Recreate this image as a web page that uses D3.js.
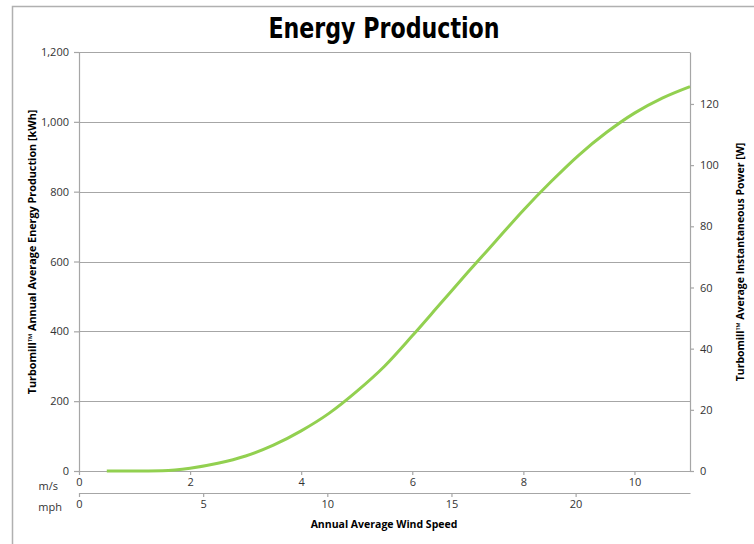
<!DOCTYPE html>
<html><head><meta charset="utf-8">
<script src="https://cdn.jsdelivr.net/npm/d3@7"></script>
<style>body{margin:0;background:#fff}svg{display:block}</style>
</head><body><svg id="c" width="754" height="544"></svg>
<script>
const windSpeed = [0.5,1,1.5,2,2.5,3,3.5,4,4.5,5,5.5,6,6.5,7,7.5,8,8.5,9,9.5,10,10.5,11];
const energyKWh = [0,0,1,8,22,43,74,115,165,228,300,387,478,569,658,747,829,905,970,1025,1068,1101];
const leftTicks = [0,200,400,600,800,1000,1200];
const rightTicks = [0,20,40,60,80,100,120];
const msTicks = [0,2,4,6,8,10];
const mphTicks = [0,5,10,15,20];

const svg = d3.select("#c");
const L = 79, R = 690, T = 52, B = 471;
const x = d3.scaleLinear().domain([0,11]).range([L,R]);
const xMph = d3.scaleLinear().domain([0,11*2.23694]).range([L,R]);
const y = d3.scaleLinear().domain([0,1200]).range([B,T]);
const yW = d3.scaleLinear().domain([0,1200000/8760]).range([B,T]);
const gray = "#a6a6a6";
const font = "'Open Sans', 'DejaVu Sans', sans-serif";

// outer border
svg.append("path").attr("d","M12.5,544 V6.5 H754").attr("fill","none").attr("stroke","#b0b0b0").attr("stroke-width",1.5);

// title
svg.append("text").attr("transform","translate(384,38) scale(0.88,1)").attr("text-anchor","middle")
  .attr("font-family","'DejaVu Sans Condensed','DejaVu Sans',sans-serif")
  .attr("font-weight","bold").attr("font-size",28).attr("fill","#000").text("Energy Production");

// gridlines
svg.append("g").selectAll("line").data(leftTicks.slice(1)).join("line")
  .attr("x1",L).attr("x2",R).attr("y1",d=>Math.round(y(d))+0.5).attr("y2",d=>Math.round(y(d))+0.5)
  .attr("stroke",gray).attr("stroke-width",1.2);

function styleAxis(g){
  g.selectAll("path,line").attr("stroke",gray).attr("stroke-width",1.2);
  g.selectAll("text").attr("font-family",font).attr("font-size",11).attr("fill","#333");
}
// left axis
svg.append("g").attr("transform",`translate(${L},0)`)
  .call(d3.axisLeft(y).tickValues(leftTicks).tickSize(5).tickSizeOuter(0).tickPadding(5).tickFormat(d3.format(",")))
  .call(styleAxis);
// right axis
svg.append("g").attr("transform",`translate(${R},0)`)
  .call(d3.axisRight(yW).tickValues(rightTicks).tickSize(4).tickSizeOuter(0).tickPadding(6))
  .call(styleAxis);
// bottom m/s axis
svg.append("g").attr("transform",`translate(0,${B})`)
  .call(d3.axisBottom(x).tickValues(msTicks).tickSize(4).tickSizeOuter(0).tickPadding(3))
  .call(styleAxis);
// mph axis
svg.append("g").attr("transform",`translate(0,493)`)
  .call(d3.axisBottom(xMph).tickValues(mphTicks).tickSize(4).tickSizeOuter(0).tickPadding(3))
  .call(styleAxis);

svg.append("text").attr("x",58).attr("y",490).attr("text-anchor","end").attr("font-family",font).attr("font-size",11).attr("fill","#333").text("m/s");
svg.append("text").attr("x",62).attr("y",511).attr("text-anchor","end").attr("font-family",font).attr("font-size",11).attr("fill","#333").text("mph");

// axis titles
svg.append("text").attr("x",384).attr("y",528).attr("text-anchor","middle").attr("font-family",font)
  .attr("font-weight","bold").attr("font-size",10.5).text("Annual Average Wind Speed");
svg.append("text").attr("transform","translate(36,252) rotate(-90)").attr("text-anchor","middle").attr("font-family",font)
  .attr("font-weight","bold").attr("font-size",10.8).text("Turbomill\u2122 Annual Average Energy Production [kWh]");
svg.append("text").attr("transform","translate(744,262) rotate(-90)").attr("text-anchor","middle").attr("font-family",font)
  .attr("font-weight","bold").attr("font-size",10.5).text("Turbomill\u2122 Average Instantaneous Power [W]");

// curve
const line = d3.line().x((d,i)=>x(windSpeed[i])).y(d=>y(d)).curve(d3.curveMonotoneX);
svg.append("path").datum(energyKWh).attr("d",line).attr("fill","none")
  .attr("stroke","#92d050").attr("stroke-width",3).attr("stroke-linejoin","round");
</script></body></html>
